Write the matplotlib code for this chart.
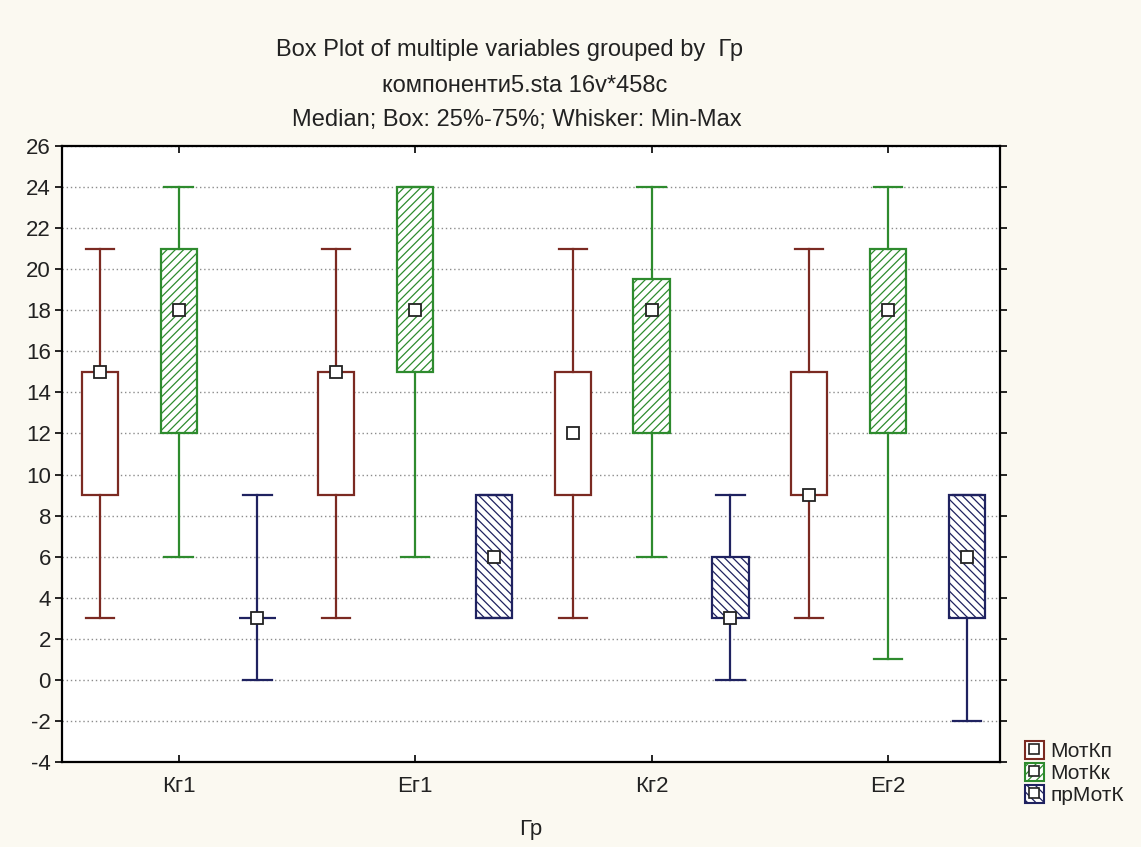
import matplotlib
matplotlib.use("Agg")
import matplotlib.pyplot as plt
from matplotlib.patches import Patch
from matplotlib.lines import Line2D
import numpy as np

plt.rcParams['font.family'] = ['Liberation Sans', 'DejaVu Sans']
plt.rcParams['hatch.linewidth'] = 0.9

# ---- data ----
groups = ['Кг1', 'Ег1', 'Кг2', 'Ег2']
series = ['МотКп', 'МотКк', 'прМотК']
colors = ['#7b2a22', '#2e8b2e', '#1f2260']
hatches = [None, '////', '\\\\\\\\']

# per series: values for groups Кг1, Ег1, Кг2, Ег2
mot_kp_min = [3, 3, 3, 3]
mot_kp_q1 = [9, 9, 9, 9]
mot_kp_med = [15, 15, 12, 9]
mot_kp_q3 = [15, 15, 15, 15]
mot_kp_max = [21, 21, 21, 21]

mot_kk_min = [6, 6, 6, 1]
mot_kk_q1 = [12, 15, 12, 12]
mot_kk_med = [18, 18, 18, 18]
mot_kk_q3 = [21, 24, 19.5, 21]
mot_kk_max = [24, 24, 24, 24]

pr_mot_min = [0, 3, 0, -2]
pr_mot_q1 = [3, 3, 3, 3]
pr_mot_med = [3, 6, 3, 6]
pr_mot_q3 = [3, 9, 6, 9]
pr_mot_max = [9, 9, 9, 9]

data = [
    (mot_kp_min, mot_kp_q1, mot_kp_med, mot_kp_q3, mot_kp_max),
    (mot_kk_min, mot_kk_q1, mot_kk_med, mot_kk_q3, mot_kk_max),
    (pr_mot_min, pr_mot_q1, pr_mot_med, pr_mot_q3, pr_mot_max),
]

yticks = list(range(-4, 27, 2))

fig = plt.figure(figsize=(11.41, 8.47), dpi=100)
bg = '#fbf9f1'
fig.patch.set_facecolor(bg)
ax = fig.add_axes([62/1141, 1-762/847, (1000-62)/1141, (762-146)/847])
ax.set_facecolor('white')

nser = len(series)
for si in range(nser):
    mn, q1, md, q3, mx = data[si]
    stats = []
    pos = []
    for gi in range(len(groups)):
        stats.append(dict(med=md[gi], q1=q1[gi], q3=q3[gi],
                          whislo=mn[gi], whishi=mx[gi], fliers=[]))
        pos.append(gi * nser + si)
    c = colors[si]
    ax.bxp(stats, positions=pos, widths=0.46, capwidths=0.36,
           patch_artist=True, showfliers=False, manage_ticks=False,
           boxprops=dict(facecolor='white', edgecolor=c, linewidth=1.6,
                         hatch=hatches[si]),
           whiskerprops=dict(color=c, linewidth=1.6),
           capprops=dict(color=c, linewidth=1.6),
           medianprops=dict(color=c, linewidth=0))
    ax.plot(pos, md, linestyle='none', marker='s', markersize=8,
            markerfacecolor='white', markeredgecolor='#222222',
            markeredgewidth=1.3, zorder=5)

ax.set_xlim(-0.48, 11.42)
ax.set_ylim(-4, 26)
ax.set_yticks(yticks)
ax.set_yticklabels([str(v) for v in yticks], fontsize=16, color='#222222')
centers = [gi * nser + 1 for gi in range(len(groups))]
ax.set_xticks(centers)
ax.set_xticklabels(groups, fontsize=16, color='#222222')
ax.tick_params(axis='y', direction='out', length=5, width=1.2, right=True, pad=3)
ax.tick_params(axis='x', direction='in', length=5, width=1.2, top=True, pad=10)
ax.yaxis.grid(True, linestyle=(0, (1, 2)), color='#8c8c8c', linewidth=1)
ax.set_axisbelow(True)
for sp in ax.spines.values():
    sp.set_linewidth(1.6)
    sp.set_color('black')

ax.set_xlabel('Гр', fontsize=16, labelpad=16, color='#222222')

fig.text(510/1141, 1-50/847, 'Box Plot of multiple variables grouped by  Гр',
         ha='center', va='center', fontsize=17, color='#222222')
fig.text(525/1141, 1-86/847, 'компоненти5.sta 16v*458c',
         ha='center', va='center', fontsize=17, color='#222222')
fig.text(517/1141, 1-120/847, 'Median; Box: 25%-75%; Whisker: Min-Max',
         ha='center', va='center', fontsize=17, color='#222222')

handles = []
for si in range(nser):
    p = Patch(facecolor='white', edgecolor=colors[si], hatch=hatches[si], linewidth=1.5)
    m = Line2D([], [], linestyle='none', marker='s', markersize=7,
               markerfacecolor='white', markeredgecolor='#222222', markeredgewidth=1.2)
    handles.append((p, m))
fig.legend(handles, series, loc='upper left',
           bbox_to_anchor=(1010/1141, 1-726/847), frameon=False,
           fontsize=15, handlelength=0.95, handleheight=0.95,
           handletextpad=0.3, labelspacing=0.1, borderpad=0.2,
           labelcolor='#222222')

fig.savefig('out.png', dpi=100, facecolor=bg)
